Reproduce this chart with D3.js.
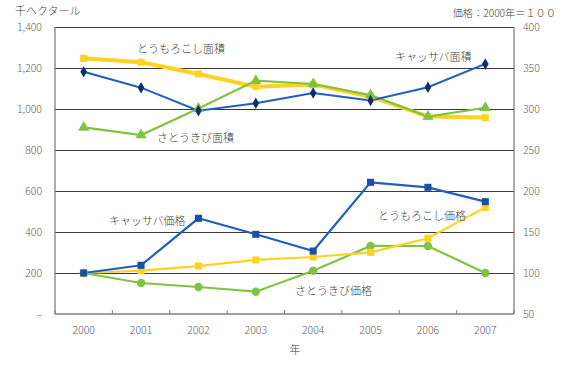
<!DOCTYPE html>
<html><head><meta charset="utf-8">
<script src="https://cdn.jsdelivr.net/npm/d3@7"></script>
<style>body{margin:0;background:#fff}svg{display:block}text{font-family:"Noto Sans CJK JP","Noto Sans",sans-serif;font-weight:300}</style>
</head><body>
<script>
const years = ["2000","2001","2002","2003","2004","2005","2006","2007"];
const cassavaArea = [1182,1104,992,1028,1078,1041,1106,1220];
const cornArea = [1247,1228,1171,1109,1120,1060,963,958];
const sugarArea = [910,873,1003,1138,1122,1068,963,1006];
const cassavaPrice = [100,109.4,166.7,147.2,126.8,210.6,204.5,187];
const cornPrice = [100,102.8,108.5,115.9,119.5,125.2,142.3,180];
const sugarPrice = [100,87.8,82.9,77.2,102.8,133,132.9,100];
const leftTicks = [0,200,400,600,800,1000,1200,1400];
const rightTicks = [50,100,150,200,250,300,350,400];

const W=567,H=369, L=55,R=514,T=27,B=314;
const svg=d3.select("body").append("svg").attr("width",W).attr("height",H);
const x=d3.scaleBand().domain(years).range([L,R]);
const yL=d3.scaleLinear().domain([0,1400]).range([B,T]);
const yR=d3.scaleLinear().domain([50,400]).range([B,T]);
const cx=d=>x(d)+x.bandwidth()/2;

// gridlines
svg.append("g").selectAll("line").data(leftTicks.filter(v=>v>0)).join("line")
  .attr("x1",L).attr("x2",R).attr("y1",d=>yL(d)+0.5).attr("y2",d=>yL(d)+0.5)
  .attr("stroke","#3a3a3a").attr("stroke-width",1);

// axes lines
const ax=svg.append("g").attr("stroke","#808080").attr("stroke-width",1.3);
ax.append("line").attr("x1",L).attr("x2",L).attr("y1",T).attr("y2",B);
ax.append("line").attr("x1",R).attr("x2",R).attr("y1",T).attr("y2",B);
ax.append("line").attr("x1",L).attr("x2",R).attr("y1",B).attr("y2",B);
// bottom ticks (inside)
const bounds=years.map(d=>x(d)).concat([R]);
svg.append("g").selectAll("line").data(bounds).join("line")
  .attr("x1",d=>d).attr("x2",d=>d).attr("y1",B).attr("y2",B-4)
  .attr("stroke","#808080").attr("stroke-width",1);

const tc="#606060";
svg.append("g").selectAll("text").data(leftTicks).join("text")
  .attr("x",42).attr("y",d=>yL(d)+4).attr("text-anchor","end")
  .attr("font-size",10.5).attr("fill",tc)
  .text(d=>d===0?"–":d3.format(",")(d));
svg.append("g").selectAll("text").data(rightTicks).join("text")
  .attr("x",523).attr("y",d=>yR(d)+4).attr("text-anchor","start")
  .attr("font-size",10.5).attr("fill",tc).text(d=>d);
svg.append("g").selectAll("text").data(years).join("text")
  .attr("x",d=>cx(d)).attr("y",334).attr("text-anchor","middle")
  .attr("font-size",10.5).attr("fill",tc).text(d=>d);

svg.append("text").attr("x",15).attr("y",15).attr("font-size",11).attr("fill","#404040").text("千ヘクタール");
svg.append("text").attr("x",556).attr("y",17).attr("text-anchor","end").attr("font-size",10.2).attr("fill","#404040").text("価格：2000年＝１００");
svg.append("text").attr("x",295).attr("y",354).attr("text-anchor","middle").attr("font-size",11).attr("fill","#404040").text("年");

const blue="#1f5fbf", navy="#0f2f6f", yellow="#ffd21f", green="#80c342";
function drawLine(vals,scale,color,width){
  svg.append("path").datum(vals)
    .attr("d",d3.line().x((d,i)=>cx(years[i])).y(d=>scale(d)))
    .attr("fill","none").attr("stroke",color).attr("stroke-width",width);
}
function drawMarkers(vals,scale,type,size,color){
  svg.append("g").selectAll("path").data(vals).join("path")
    .attr("transform",(d,i)=>`translate(${cx(years[i])},${scale(d)})`)
    .attr("d",d3.symbol().type(type).size(size)).attr("fill",color);
}
// price series
drawLine(sugarPrice,yR,green,2.2);
drawLine(cornPrice,yR,yellow,2.2);
drawLine(cassavaPrice,yR,blue,2.2);
drawMarkers(sugarPrice,yR,d3.symbolCircle,55,green);
drawMarkers(cornPrice,yR,d3.symbolSquare,50,yellow);
drawMarkers(cassavaPrice,yR,d3.symbolSquare,50,"#1a4fa6");
// area series
drawLine(cornArea,yL,yellow,4);
drawLine(sugarArea,yL,green,2.2);
drawLine(cassavaArea,yL,blue,2);
drawMarkers(cornArea,yL,d3.symbolSquare,50,yellow);
drawMarkers(sugarArea,yL,d3.symbolTriangle,55,green);
drawMarkers(cassavaArea,yL,d3.symbolDiamond,38,navy);

const labels=[
  ["とうもろこし面積",137,53],["キャッサバ面積",395,61],["さとうきび面積",157,142],
  ["キャッサバ価格",109,225],["とうもろこし価格",378,220],["さとうきび価格",295,295]
];
svg.append("g").selectAll("text").data(labels).join("text")
  .attr("x",d=>d[1]).attr("y",d=>d[2]).attr("font-size",11).attr("fill","#404040").text(d=>d[0]);
</script>
</body></html>
